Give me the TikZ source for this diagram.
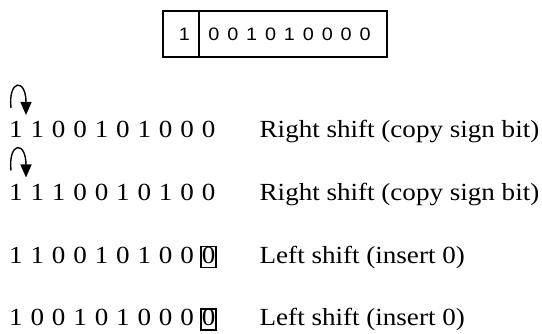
\documentclass[tikz,border=0pt]{standalone}
\usepackage{fontspec}
\setmainfont{Liberation Serif}[FakeStretch=1.1]
\newfontfamily\regfont{Liberation Sans}[FakeStretch=1.1]
\usetikzlibrary{arrows.meta}
\makeatletter
\newcommand\bitsrow[2]{\@tfor\bt:=#2\do{\makebox[#1][c]{\bt}}}
\makeatother
\newcommand\bx{{\fboxsep=0pt\fboxrule=1.5pt\fbox{\rule[-3.5pt]{0pt}{19pt}0}}}
\tikzset{
  cellbox/.style={draw, line width=1.2pt, inner sep=0pt, font=\regfont\fontsize{18}{18}\selectfont},
  bitrow/.style={anchor=base west, inner sep=0pt, font=\fontsize{24.6}{24.6}\selectfont},
  lbl/.style={anchor=base west, inner sep=0pt, font=\fontsize{24.6}{24.6}\selectfont},
  turn/.style={line width=1.4pt, -{Triangle[width=11pt,length=13pt]}}
}
\begin{document}
\begin{tikzpicture}[x=1pt,y=-1pt]
\useasboundingbox (0,0) rectangle (542,334);
% register
\node[cellbox, minimum width=36pt, minimum height=46pt] (sgn) at (181,34) {\hspace*{7pt}1};
\node[cellbox, minimum width=188pt, minimum height=46pt] (mag) at (293,34) {\bitsrow{18.9pt}{001010000}\hspace*{7pt}};
% rows
\node[bitrow] (r1) at (5.05,138) {\bitsrow{21.4pt}{1100101000}};
\node[bitrow] (r2) at (5.05,200.5) {\bitsrow{21.4pt}{1110010100}};
\node[bitrow] (r3) at (5.05,263.5) {\bitsrow{21.4pt}{110010100\bx}};
\node[bitrow] (r4) at (5.05,326) {\bitsrow{21.4pt}{100101000\bx}};
\node[lbl] (l1) at (259.5,138) {Right shift (copy sign bit)};
\node[lbl] (l2) at (259.5,200.5) {Right shift (copy sign bit)};
\node[lbl] (l3) at (259.5,263.5) {Left shift (insert 0)};
\node[lbl] (l4) at (259.5,326) {Left shift (insert 0)};
% turn arrows
\coordinate (a1s) at (11,108);
\coordinate (a1e) at (26,115);
\coordinate (a2s) at (11,170.5);
\coordinate (a2e) at (26,177.5);
\draw[turn] (a1s) .. controls (8,79) and (26,78) .. (a1e);
\draw[turn] (a2s) .. controls (8,141.5) and (26,140.5) .. (a2e);
\end{tikzpicture}
\end{document}
